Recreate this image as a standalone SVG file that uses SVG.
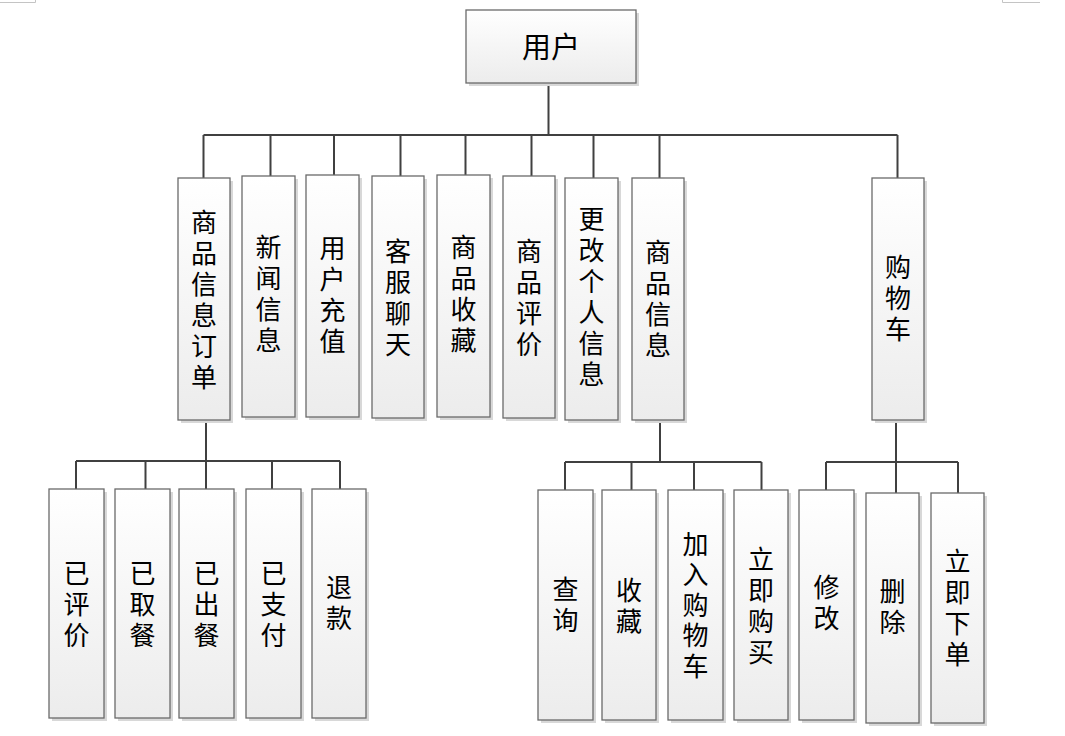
<svg xmlns="http://www.w3.org/2000/svg" width="1065" height="736" viewBox="0 0 1065 736">
  <defs>
    <linearGradient id="boxFill" x1="0" y1="0" x2="0" y2="1">
      <stop offset="0" stop-color="#ffffff"/>
      <stop offset="1" stop-color="#ececec"/>
    </linearGradient>
  </defs>
  <style>
    .shadow { fill: #d8d8d8; }
    .box { fill: url(#boxFill); stroke: #6a6a6a; stroke-width: 1.3; }
    .label { font-family: "Noto Sans CJK SC", "Noto Sans", sans-serif; font-size: 26px; fill: #000; text-anchor: middle; }
    .root-label { font-size: 29px; }
    .vert { writing-mode: vertical-rl; letter-spacing: 5px; }
    .vert.tight { letter-spacing: 4.5px; }
    .wire { fill: none; stroke: #404040; stroke-width: 2; }
    .mark { fill: none; stroke: #c4c4c4; stroke-width: 1; }
  </style>

  <rect width="1065" height="736" fill="#ffffff"/>

  <!-- page corner marks -->
  <path class="mark" d="M0 2.5 H35.5 V0 M1002.5 0 V2.5 H1040"/>

  <!-- connectors -->
  <g id="connectors">
    <path class="wire" d="M548.5 83 V135 M203.5 135 H897.5
      M203.5 135 V178 M270.5 135 V185 M334 135 V182 M400.5 135 V191
      M465.5 135 V182 M531.5 135 V182 M593.5 135 V183 M659.5 135 V183 M897.5 135 V178"/>
    <path class="wire" d="M206 417 V491 M76 461 H340
      M76 461 V489 M145.5 461 V491 M272 461 V491 M340 461 V489"/>
    <path class="wire" d="M660 417 V462 M565 462 H761.5
      M565 462 V490 M631.5 462 V494 M694 462 V494 M761.5 462 V490"/>
    <path class="wire" d="M896 417 V494 M826 462 H958
      M826 462 V490 M958 462 V493"/>
  </g>

  <!-- root -->
  <g id="node-user">
    <rect class="shadow" x="469" y="13" width="170" height="73"/>
    <rect class="box" x="466" y="10" width="170" height="73"/>
    <text class="label root-label" x="551" y="57.5">用户</text>
  </g>

  <!-- second level -->
  <g id="node-order">
    <rect class="shadow" x="181" y="181" width="52" height="242"/>
    <rect class="box" x="178" y="178" width="52" height="242"/>
    <text class="label vert" x="204" y="302.5">商品信息订单</text>
  </g>
  <g id="node-news">
    <rect class="shadow" x="245" y="179" width="53" height="241"/>
    <rect class="box" x="242" y="176" width="53" height="241"/>
    <text class="label vert" x="268.5" y="296.5">新闻信息</text>
  </g>
  <g id="node-recharge">
    <rect class="shadow" x="309" y="178" width="53" height="242"/>
    <rect class="box" x="306" y="175" width="53" height="242"/>
    <text class="label vert" x="332.5" y="297.5">用户充值</text>
  </g>
  <g id="node-service">
    <rect class="shadow" x="375" y="179" width="52" height="242"/>
    <rect class="box" x="372" y="176" width="52" height="242"/>
    <text class="label vert" x="398" y="300">客服聊天</text>
  </g>
  <g id="node-favorite">
    <rect class="shadow" x="440" y="178" width="53" height="242"/>
    <rect class="box" x="437" y="175" width="53" height="242"/>
    <text class="label vert" x="463.5" y="296.5">商品收藏</text>
  </g>
  <g id="node-review">
    <rect class="shadow" x="506" y="179" width="52" height="242"/>
    <rect class="box" x="503" y="176" width="52" height="242"/>
    <text class="label vert" x="529" y="300">商品评价</text>
  </g>
  <g id="node-profile">
    <rect class="shadow" x="568" y="181" width="53" height="242"/>
    <rect class="box" x="565" y="178" width="53" height="242"/>
    <text class="label vert" x="591.5" y="299.5">更改个人信息</text>
  </g>
  <g id="node-goods">
    <rect class="shadow" x="635" y="181" width="52" height="242"/>
    <rect class="box" x="632" y="178" width="52" height="242"/>
    <text class="label vert" x="658" y="301">商品信息</text>
  </g>
  <g id="node-cart">
    <rect class="shadow" x="875" y="181" width="52" height="242"/>
    <rect class="box" x="872" y="178" width="52" height="242"/>
    <text class="label vert" x="898" y="301">购物车</text>
  </g>

  <!-- order states -->
  <g id="node-reviewed">
    <rect class="shadow" x="52" y="492" width="55" height="229"/>
    <rect class="box" x="49" y="489" width="55" height="229"/>
    <text class="label vert" x="76.5" y="607">已评价</text>
  </g>
  <g id="node-picked-up">
    <rect class="shadow" x="118" y="492" width="55" height="229"/>
    <rect class="box" x="115" y="489" width="55" height="229"/>
    <text class="label vert" x="142.5" y="607">已取餐</text>
  </g>
  <g id="node-served">
    <rect class="shadow" x="182" y="492" width="55" height="229"/>
    <rect class="box" x="179" y="489" width="55" height="229"/>
    <text class="label vert" x="206.5" y="607">已出餐</text>
  </g>
  <g id="node-paid">
    <rect class="shadow" x="249" y="492" width="55" height="229"/>
    <rect class="box" x="246" y="489" width="55" height="229"/>
    <text class="label vert" x="273.5" y="607">已支付</text>
  </g>
  <g id="node-refund">
    <rect class="shadow" x="315" y="492" width="54" height="229"/>
    <rect class="box" x="312" y="489" width="54" height="229"/>
    <text class="label vert" x="339" y="605.5">退款</text>
  </g>

  <!-- goods actions -->
  <g id="node-search">
    <rect class="shadow" x="541" y="493" width="55" height="230"/>
    <rect class="box" x="538" y="490" width="55" height="230"/>
    <text class="label vert" x="565.5" y="607.5">查询</text>
  </g>
  <g id="node-collect">
    <rect class="shadow" x="605" y="493" width="54" height="230"/>
    <rect class="box" x="602" y="490" width="54" height="230"/>
    <text class="label vert" x="629" y="608.5">收藏</text>
  </g>
  <g id="node-add-cart">
    <rect class="shadow" x="671" y="493" width="55" height="230"/>
    <rect class="box" x="668" y="490" width="55" height="230"/>
    <text class="label vert tight" x="695.5" y="607.3">加入购物车</text>
  </g>
  <g id="node-buy-now">
    <rect class="shadow" x="737" y="493" width="54" height="230"/>
    <rect class="box" x="734" y="490" width="54" height="230"/>
    <text class="label vert" x="761" y="608.5">立即购买</text>
  </g>

  <!-- cart actions -->
  <g id="node-edit">
    <rect class="shadow" x="802" y="493" width="55" height="230"/>
    <rect class="box" x="799" y="490" width="55" height="230"/>
    <text class="label vert" x="826.5" y="605.5">修改</text>
  </g>
  <g id="node-delete">
    <rect class="shadow" x="869" y="496" width="53" height="230"/>
    <rect class="box" x="866" y="493" width="53" height="230"/>
    <text class="label vert" x="892.5" y="609">删除</text>
  </g>
  <g id="node-order-now">
    <rect class="shadow" x="934" y="496" width="53" height="230"/>
    <rect class="box" x="931" y="493" width="53" height="230"/>
    <text class="label vert" x="957.5" y="610">立即下单</text>
  </g>
</svg>
